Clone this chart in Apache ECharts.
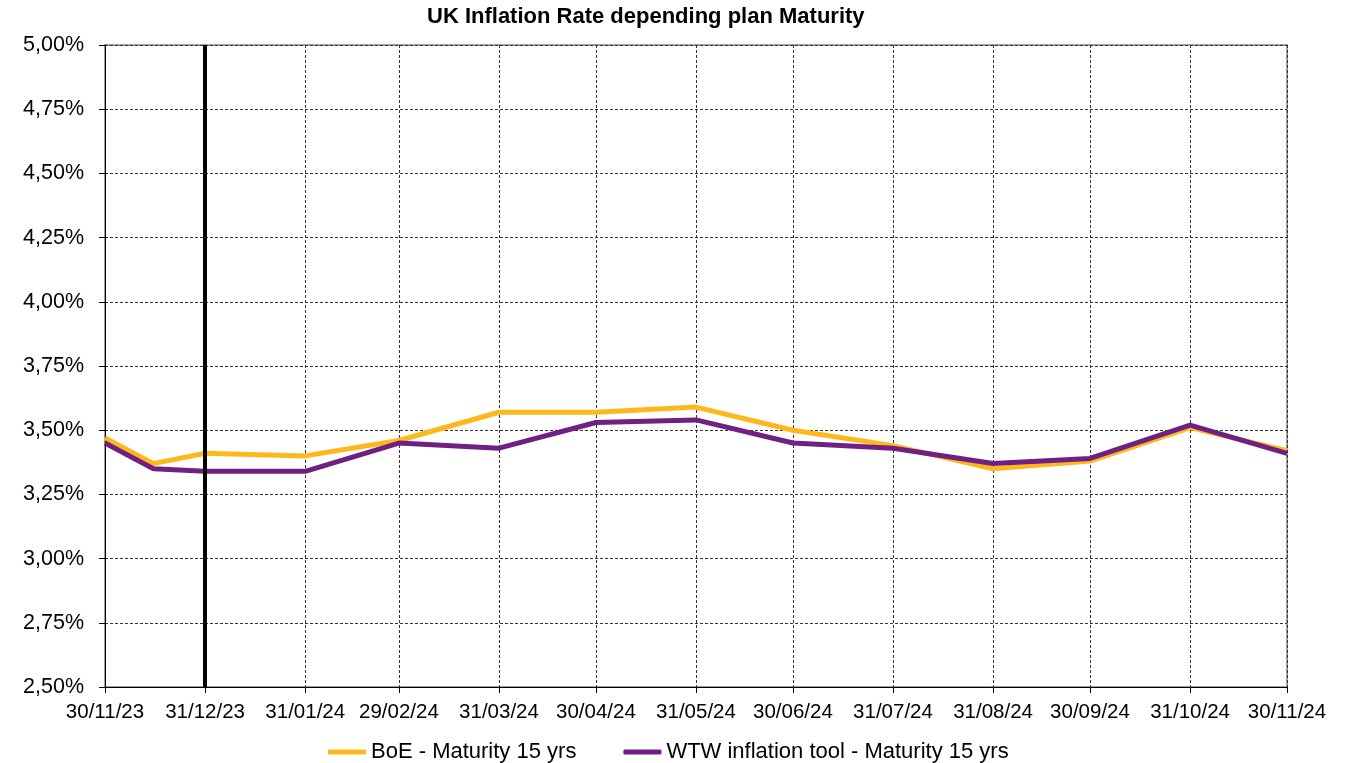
<!DOCTYPE html>
<html lang="en">
<head>
    <meta charset="UTF-8">
    <title>UK Inflation Rate depending plan Maturity</title>
    <script src="https://cdn.jsdelivr.net/npm/echarts@6.0.0/dist/echarts.min.js"></script>
    <style>
        html, body { margin: 0; padding: 0; background: #fff; }
        #chart { width: 1355px; height: 763px; }
    </style>
</head>
<body>
    <div id="chart"></div>
    <script>
        // data
        const dates = ['2023-11-30', '2023-12-15', '2023-12-31', '2024-01-31', '2024-02-29', '2024-03-31',
                       '2024-04-30', '2024-05-31', '2024-06-30', '2024-07-31', '2024-08-31', '2024-09-30',
                       '2024-10-31', '2024-11-30'];
        const boe = [3.47, 3.37, 3.41, 3.40, 3.46, 3.57, 3.57, 3.59, 3.50, 3.44, 3.35, 3.38, 3.51, 3.42];
        const wtw = [3.45, 3.35, 3.34, 3.34, 3.45, 3.43, 3.53, 3.54, 3.45, 3.43, 3.37, 3.39, 3.52, 3.41];
        const tickDates = ['2023-11-30', '2023-12-31', '2024-01-31', '2024-02-29', '2024-03-31', '2024-04-30',
                           '2024-05-31', '2024-06-30', '2024-07-31', '2024-08-31', '2024-09-30', '2024-10-31',
                           '2024-11-30'];
        const markerDate = '2023-12-31';
        const seriesNames = ['BoE - Maturity 15 yrs', 'WTW inflation tool - Maturity 15 yrs'];

        // dates -> days (UTC) so the x axis can be a plain value axis with month-end ticks
        const day = d => Date.UTC(+d.slice(0, 4), +d.slice(5, 7) - 1, +d.slice(8, 10)) / 86400000;
        const dayLabel = v => {
            const dt = new Date(Math.round(v) * 86400000);
            const p = n => String(n).padStart(2, '0');
            return p(dt.getUTCDate()) + '/' + p(dt.getUTCMonth() + 1) + '/' + p(dt.getUTCFullYear() % 100);
        };
        const ticks = tickDates.map(day);

        const chart = echarts.init(document.getElementById('chart'));
        const font = 'Arial, "Liberation Sans", sans-serif';

        chart.setOption({
            animation: false,
            textStyle: { fontFamily: font },
            title: {
                text: 'UK Inflation Rate depending plan Maturity',
                left: 422,
                top: 1,
                textStyle: { fontSize: 22, fontWeight: 'bold', color: '#000', fontFamily: font }
            },
            grid: {
                left: 105, right: 68, top: 45, bottom: 76,
                show: true, borderColor: '#a0a0a0', borderWidth: 2,
                outerBoundsMode: 'none'
            },
            legend: {
                left: 323,
                top: 736,
                itemWidth: 38,
                itemHeight: 5,
                itemGap: 47,
                icon: 'roundRect',
                textStyle: { fontSize: 22, color: '#000', fontFamily: font },
                data: seriesNames
            },
            xAxis: {
                type: 'value',
                min: ticks[0],
                max: ticks[ticks.length - 1],
                axisLine: { lineStyle: { color: '#000', width: 1 } },
                axisTick: { show: true, customValues: ticks, length: 6, lineStyle: { color: '#000' } },
                axisLabel: {
                    customValues: ticks,
                    color: '#000', fontSize: 20.5, margin: 15, fontFamily: font,
                    formatter: dayLabel
                },
                splitLine: { show: true, lineStyle: { color: '#333', type: [3, 2], width: 1 } }
            },
            yAxis: {
                type: 'value',
                min: 2.5, max: 5, interval: 0.25,
                axisLine: { show: true, lineStyle: { color: '#000', width: 1 } },
                axisTick: { show: true, length: 6, lineStyle: { color: '#000' } },
                axisLabel: {
                    color: '#000', fontSize: 21.5, margin: 21, fontFamily: font,
                    formatter: v => v.toFixed(2).replace('.', ',') + '%'
                },
                splitLine: { show: true, lineStyle: { color: '#333', type: [3, 2], width: 1 } }
            },
            series: [
                {
                    name: seriesNames[0],
                    type: 'line',
                    data: dates.map((d, i) => [day(d), boe[i]]),
                    showSymbol: false, symbol: 'none',
                    itemStyle: { color: '#FFB81C' },
                    lineStyle: { color: '#FFB81C', width: 5 },
                    markLine: {
                        silent: true, symbol: 'none', label: { show: false },
                        lineStyle: { color: '#000', width: 4, type: 'solid' },
                        data: [{ xAxis: day(markerDate) }]
                    }
                },
                {
                    name: seriesNames[1],
                    type: 'line',
                    data: dates.map((d, i) => [day(d), wtw[i]]),
                    showSymbol: false, symbol: 'none',
                    itemStyle: { color: '#702082' },
                    lineStyle: { color: '#702082', width: 5 }
                }
            ]
        });
    </script>
</body>
</html>
